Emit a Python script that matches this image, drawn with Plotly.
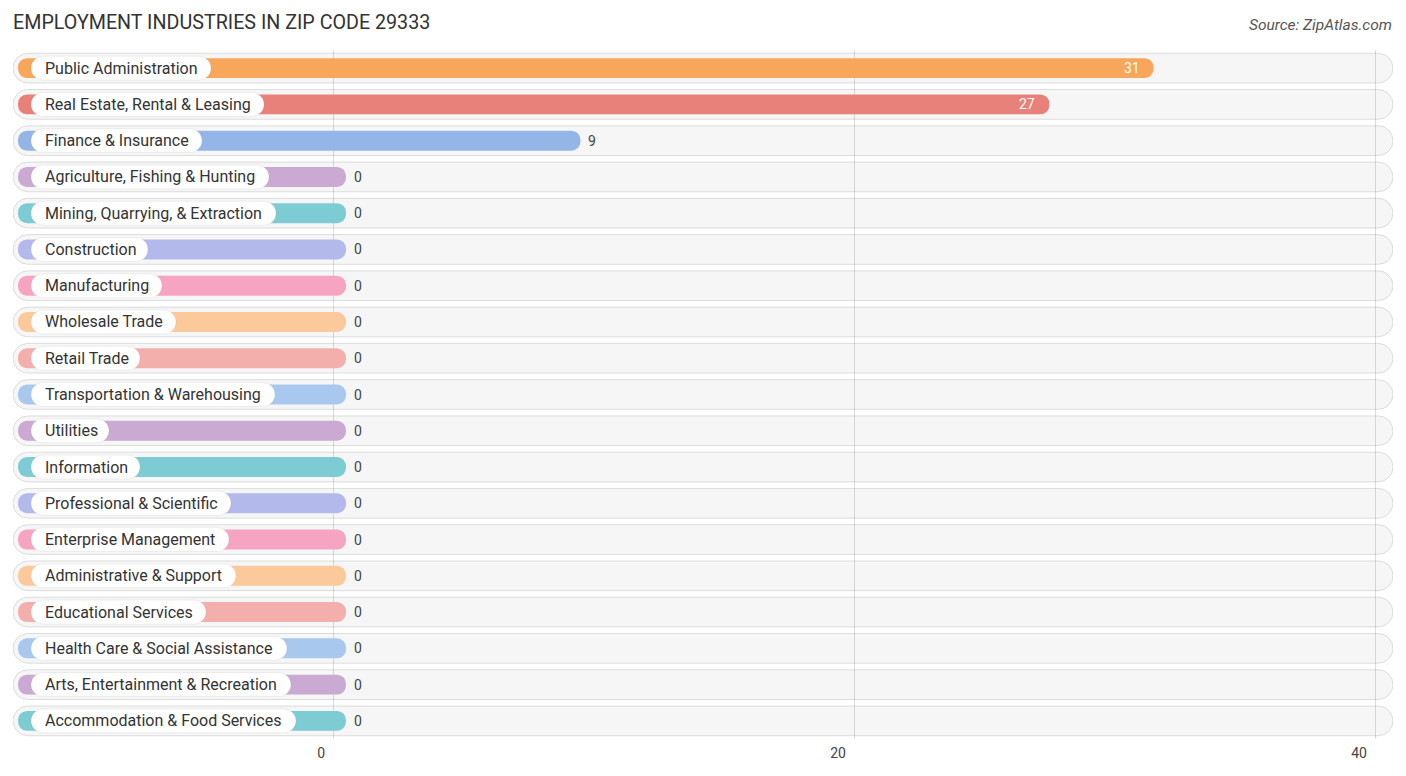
import plotly.graph_objects as go

# data
industries = [
    "Public Administration",
    "Real Estate, Rental & Leasing",
    "Finance & Insurance",
    "Agriculture, Fishing & Hunting",
    "Mining, Quarrying, & Extraction",
    "Construction",
    "Manufacturing",
    "Wholesale Trade",
    "Retail Trade",
    "Transportation & Warehousing",
    "Utilities",
    "Information",
    "Professional & Scientific",
    "Enterprise Management",
    "Administrative & Support",
    "Educational Services",
    "Health Care & Social Assistance",
    "Arts, Entertainment & Recreation",
    "Accommodation & Food Services",
]
employees = [31, 27, 9, 0, 0, 0, 0, 0, 0, 0, 0, 0, 0, 0, 0, 0, 0, 0, 0]
x_ticks = [0, 20, 40]

# styling
colors = [
    "#F7A65A", "#E9817B", "#93B6E6", "#CAA9D2", "#7ECCD3", "#B3B9EA",
    "#F6A4C2", "#FBC99A", "#F2AFAC", "#A9C8EE", "#CAA9D2", "#7ECCD3",
    "#B3B9EA", "#F6A4C2", "#FBC99A", "#F2AFAC", "#A9C8EE", "#CAA9D2",
    "#7ECCD3",
]
# right end of each white label pill, in screen px (follows text length)
pill_end_px = [211, 264, 202, 269, 276, 148, 162, 176, 140, 275,
               109, 140, 231, 229, 236, 206, 287, 291, 296]

# the page body has an 8px margin, so the figure is 16px smaller than the window
BODY = 8
W, H = 1406 - 2 * BODY, 776 - 2 * BODY
L, R, T, B = 13 - BODY, 1406 - 1393 - BODY, 50 - BODY, 776 - 739 - BODY
X0_PX, PX_PER_UNIT = 333, 26.05


def px_to_x(px):
    return (px - X0_PX) / PX_PER_UNIT


x_range = [px_to_x(13), px_to_x(1393)]
bg_start, bg_end = x_range
bar_start = px_to_x(18)
pill_start = px_to_x(31)
text_x = px_to_x(43)
cap = 13 / PX_PER_UNIT  # rounded cap past the value

FONT = "Roboto, 'Open Sans', sans-serif"
n = len(industries)

fig = go.Figure()


def pill(lefts, rights, width, color, radius, line=None):
    fig.add_trace(go.Bar(
        y=industries, x=[r - l for l, r in zip(lefts, rights)], base=lefts,
        orientation="h", width=width,
        marker=dict(color=color, cornerradius=radius, line=line or dict(width=0)),
        hoverinfo="skip", showlegend=False,
    ))


# grey row backgrounds
pill([bg_start] * n, [bg_end] * n, 0.82, "rgba(0,0,0,0.035)", 15,
     line=dict(color="rgba(0,0,0,0.12)", width=1))

# coloured value bars
pill([bar_start] * n, [v + cap for v in employees], 0.55, colors, 10)

# white label pills
pill([pill_start] * n, [px_to_x(p) for p in pill_end_px], 0.66, "#FFFFFF", 12,
     line=dict(color="rgba(0,0,0,0.06)", width=1))

annotations = []
for name, v in zip(industries, employees):
    annotations.append(dict(
        x=text_x, y=name, xref="x", yref="y", text=name, showarrow=False,
        xanchor="left", yanchor="middle", font=dict(family=FONT, size=16, color="#333333"),
    ))
    inside = v >= 20
    annotations.append(dict(
        x=v + cap, y=name, xref="x", yref="y", text=str(v), showarrow=False,
        xanchor="right" if inside else "left", yanchor="middle",
        xshift=-12 if inside else 6,
        font=dict(family=FONT, size=14, color="#FFFFFF" if inside else "#444444"),
    ))

# source note, top right
annotations.append(dict(
    x=(1394 - BODY - L) / (W - L - R), y=(H - (25 - BODY) - B) / (H - T - B),
    xref="paper", yref="paper", text="Source: ZipAtlas.com",
    showarrow=False, xanchor="right", yanchor="middle",
    font=dict(family=FONT, size=15.5, color="#555555", style="italic"),
))

fig.update_layout(
    width=W, height=H,
    margin=dict(l=L, r=R, t=T, b=B, pad=0),
    barmode="overlay",
    plot_bgcolor="#FFFFFF", paper_bgcolor="#FFFFFF",
    title=dict(
        text="EMPLOYMENT INDUSTRIES IN ZIP CODE 29333",
        x=(13 - BODY) / W, xanchor="left", xref="container",
        y=1 - (22 - BODY) / H, yanchor="middle", yref="container",
        font=dict(family=FONT, size=19.7, color="#333333"),
    ),
    xaxis=dict(
        range=x_range, tickvals=x_ticks, ticktext=[str(t) for t in x_ticks],
        showgrid=True, gridcolor="#DDDDDD", gridwidth=1, zeroline=False,
        ticks="", ticklabelposition="outside left", ticklabelshift=-8,
        ticklabelstandoff=4,
        tickfont=dict(family=FONT, size=14, color="#444444"),
        showline=False, fixedrange=True,
    ),
    yaxis=dict(
        categoryorder="array", categoryarray=industries,
        range=[n - 0.5, -0.5],
        showticklabels=False, showgrid=False, zeroline=False, fixedrange=True,
    ),
    font=dict(family=FONT),
    annotations=annotations,
)

fig.write_html("out.html")
